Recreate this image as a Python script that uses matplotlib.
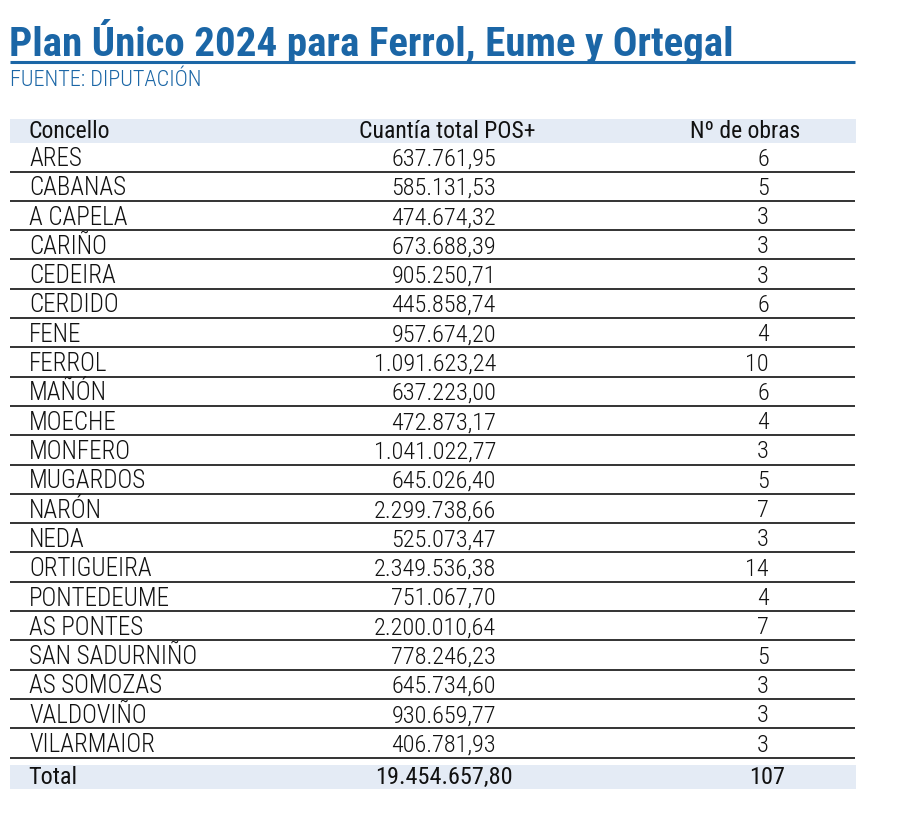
import matplotlib.pyplot as plt
from matplotlib import font_manager

# Datos de la tabla
concellos = ["ARES", "CABANAS", "A CAPELA", "CARIÑO", "CEDEIRA", "CERDIDO", "FENE",
             "FERROL", "MAÑÓN", "MOECHE", "MONFERO", "MUGARDOS", "NARÓN", "NEDA",
             "ORTIGUEIRA", "PONTEDEUME", "AS PONTES", "SAN SADURNIÑO", "AS SOMOZAS",
             "VALDOVIÑO", "VILARMAIOR"]
cuantias = ["637.761,95", "585.131,53", "474.674,32", "673.688,39", "905.250,71",
            "445.858,74", "957.674,20", "1.091.623,24", "637.223,00", "472.873,17",
            "1.041.022,77", "645.026,40", "2.299.738,66", "525.073,47", "2.349.536,38",
            "751.067,70", "2.200.010,64", "778.246,23", "645.734,60", "930.659,77",
            "406.781,93"]
obras = [6, 5, 3, 3, 3, 6, 4, 10, 6, 4, 3, 5, 7, 3, 14, 4, 7, 5, 3, 3, 3]
cabeceras = ["Concello", "Cuantía total POS+", "Nº de obras"]
total_cuantia = "19.454.657,80"
total_obras = 107

titulo = "Plan Único 2024 para Ferrol, Eume y Ortegal"
fuente = "FUENTE: DIPUTACIÓN"

nombres = {f.name for f in font_manager.fontManager.ttflist}
fuente_base = "Roboto Condensed" if "Roboto Condensed" in nombres else "Roboto"
plt.rcParams['font.family'] = [fuente_base, 'DejaVu Sans']

azul = "#1b66a6"
banda = "#e4ebf5"
negro = "#111111"

fig = plt.figure(figsize=(9.08, 8.16), dpi=100)
ax = fig.add_axes([0, 0, 1, 1])
ax.set_xlim(0, 908)
ax.set_ylim(816, 0)
ax.axis("off")

# Titulo y fuente
ax.text(9, 41, titulo, fontsize=29.5, fontweight="bold", color=azul, va="center", ha="left")
ax.plot([10, 855], [62, 62], color=azul, lw=2.2, solid_capstyle="butt")
ax.text(10, 80, fuente, fontsize=16, fontweight="light", color=azul, va="center", ha="left")

# Cabecera
ax.add_patch(plt.Rectangle((10, 119), 846, 24, color=banda, lw=0))
ax.text(28, 131, cabeceras[0], fontsize=17, va="center", ha="left", color=negro)
ax.text(447, 131, cabeceras[1], fontsize=17, va="center", ha="center", color=negro)
ax.text(745, 131, cabeceras[2], fontsize=17, va="center", ha="center", color=negro)

# Filas
paso = 29.3
for i, (c, q, n) in enumerate(zip(concellos, cuantias, obras)):
    y = 159 + i * paso
    ax.text(29, y, c, fontsize=18, fontweight="light", va="center", ha="left", color=negro)
    ax.text(496, y, q, fontsize=17.5, fontweight="light", va="center", ha="right", color=negro)
    ax.text(769, y, str(n), fontsize=17.5, fontweight="light", va="center", ha="right", color=negro)
    ax.plot([10, 855], [y + 12.5, y + 12.5], color=negro, lw=1.2, solid_capstyle="butt")

# Total
ax.add_patch(plt.Rectangle((10, 765), 846, 24, color=banda, lw=0))
ax.text(28, 777, "Total", fontsize=17.5, va="center", ha="left", color=negro)
ax.text(513, 777, total_cuantia, fontsize=17.5, va="center", ha="right", color=negro)
ax.text(767, 777, str(total_obras), fontsize=17.5, va="center", ha="center", color=negro)

fig.savefig("out.png", dpi=100)
